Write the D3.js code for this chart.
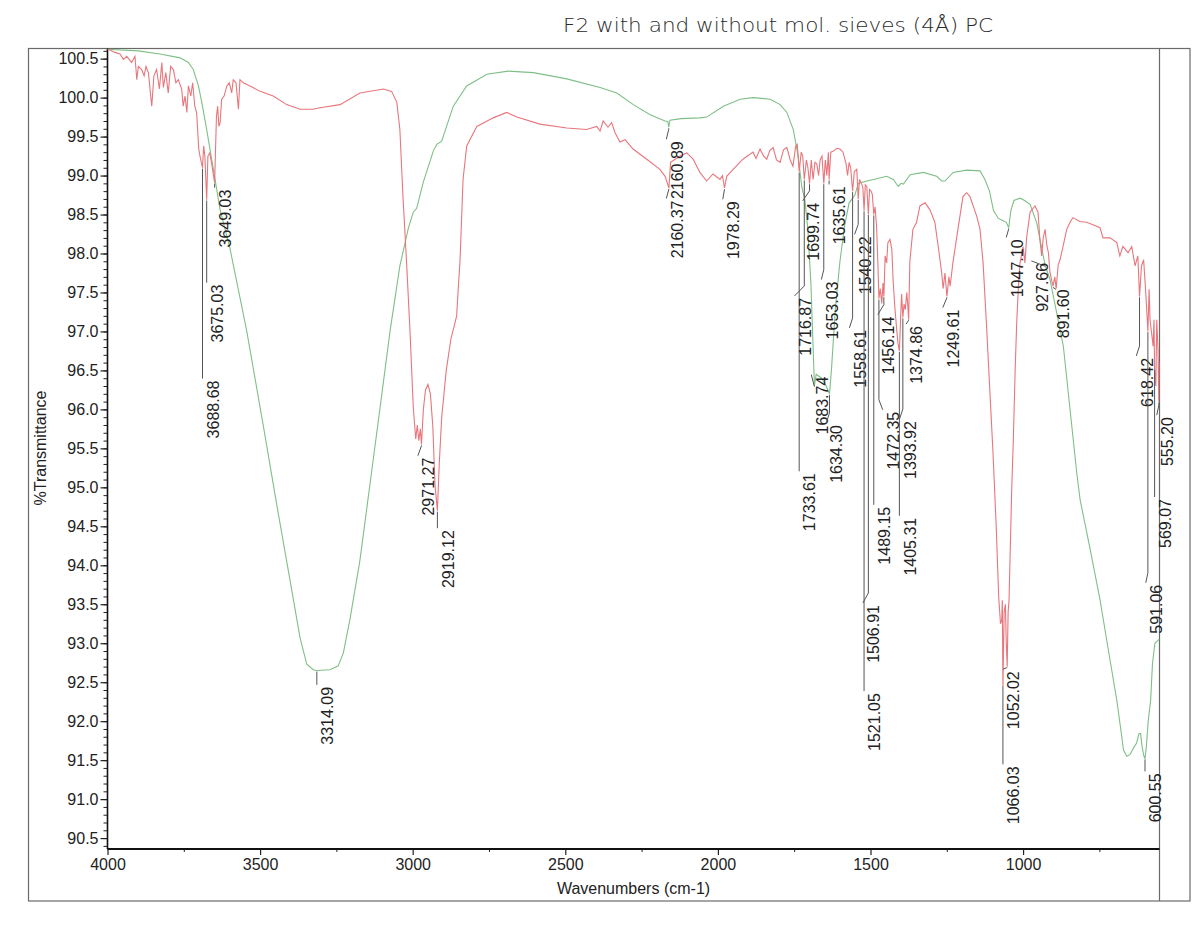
<!DOCTYPE html>
<html><head><meta charset="utf-8">
<script src="https://cdn.jsdelivr.net/npm/d3@7"></script>
<style>body{margin:0;background:#fff}svg{display:block}</style>
</head><body>
<svg id="c" width="1200" height="941"></svg>
<script>
// ---------------- data ----------------
const chartTitle = "F2 with and without mol. sieves (4Å) PC";
const xTitle = "Wavenumbers (cm-1)";
const yTitle = "%Transmittance";
const xTickValues = [4000, 3500, 3000, 2500, 2000, 1500, 1000];
const yTickValues = [90.5,91.0,91.5,92.0,92.5,93.0,93.5,94.0,94.5,95.0,95.5,96.0,96.5,97.0,97.5,98.0,98.5,99.0,99.5,100.0,100.5];

// red spectrum (without sieves) [wavenumber, %T]
const redSpectrum = [
[4000,100.62],[3992,100.61],[3975,100.58],[3959,100.56],[3948,100.49],[3937,100.53],[3921,100.45],[3910,100.53],[3904,100.23],[3899,100.40],[3888,100.36],[3880,100.28],[3874,100.40],[3866,100.32],[3855,99.89],[3848,100.28],[3839,100.36],[3830,100.11],[3822,100.45],[3817,100.13],[3809,100.32],[3801,100.06],[3793,100.40],[3784,100.36],[3776,100.19],[3768,100.23],[3757,100.11],[3752,99.89],[3746,100.02],[3740,99.81],[3735,100.15],[3727,100.02],[3721,100.19],[3714,99.89],[3708,99.81],[3701,99.34],[3697,99.25],[3688.7,99.10],[3685,99.38],[3681,99.25],[3675,98.69],[3671,99.25],[3665,99.29],[3659,99.16],[3649,98.91],[3643,99.76],[3639,99.89],[3635,99.63],[3631,99.68],[3626,99.98],[3618,100.02],[3609,100.15],[3601,100.19],[3593,100.06],[3588,100.23],[3579,100.19],[3571,99.85],[3566,100.23],[3555,100.19],[3533,100.15],[3500,100.08],[3457,100.02],[3413,99.91],[3369,99.85],[3326,99.85],[3304,99.87],[3238,99.91],[3173,100.06],[3096,100.11],[3069,100.08],[3052,99.94],[3042,99.59],[3032,98.74],[3020,97.88],[3009,97.02],[2998,96.02],[2990,95.62],[2985,95.80],[2980,95.60],[2975,95.75],[2971.3,95.55],[2965,96.0],[2958,96.25],[2950,96.32],[2942,96.2],[2934,95.78],[2927,95.04],[2919.1,94.70],[2913,95.3],[2905,95.9],[2890,96.5],[2875,96.9],[2862,97.1],[2856,97.2],[2850,97.6],[2845,97.9],[2835,98.95],[2823,99.38],[2790,99.63],[2736,99.74],[2692,99.81],[2659,99.75],[2583,99.66],[2495,99.61],[2430,99.59],[2397,99.63],[2386,99.57],[2376,99.70],[2360,99.62],[2348,99.68],[2337,99.55],[2321,99.43],[2304,99.46],[2278,99.34],[2233,99.21],[2190,99.08],[2173,98.99],[2160.4,98.84],[2155,99.17],[2124,99.25],[2102,99.29],[2081,99.21],[2059,99.04],[2037,98.93],[2016,99.02],[1993,98.95],[1985,99.0],[1978.3,98.84],[1971,98.99],[1950,99.08],[1918,99.21],
[1885,99.30],[1875,99.22],[1862,99.34],[1850,99.25],[1840,99.21],[1830,99.32],[1819,99.36],[1808,99.2],[1796,99.17],[1785,99.33],[1774,99.36],[1763,99.2],[1754,99.12],[1745,99.38],[1740,99.40],[1733.6,99.05],[1727,99.3],[1722,99.25],[1716.9,98.95],[1710,99.2],[1705,99.1],[1699.7,98.9],[1694,99.2],[1688,98.95],[1682,99.17],[1676,99.15],[1670,99.0],[1665,99.2],[1659,99.25],[1653,98.9],[1648,99.2],[1643,99.0],[1638,99.3],[1635.6,98.95],[1630,99.30],[1623,99.31],[1610,99.35],[1600,99.34],[1590,99.30],[1580,99.15],[1575,99.0],[1570,99.17],[1565,99.1],[1558.6,98.80],[1553,99.05],[1545,99.08],[1540.2,98.7],[1536,98.95],[1530,98.9],[1525,98.85],[1521,98.55],[1517,98.88],[1512,98.86],[1507,98.50],[1503,98.82],[1498,98.80],[1494,98.76],[1489.2,98.50],[1485,98.60],[1480,98.35],[1476,97.9],[1472.4,97.42],[1468,97.55],[1463,97.36],[1459,97.62],[1456.1,97.45],[1452,97.97],[1447,97.88],[1443,98.14],[1436,98.18],[1430,98.05],[1426,97.67],[1420,97.3],[1414,97.02],[1410,96.85],[1405.3,96.75],[1400,97.3],[1398,97.48],[1393.9,97.18],[1390,97.35],[1386,97.28],[1381,97.5],[1378,97.35],[1374.9,97.15],[1371,97.9],[1361,98.31],[1349,98.40],[1338,98.61],[1321,98.65],[1305,98.56],[1289,98.40],[1278,98.09],[1267,97.76],[1262,97.55],[1256,97.75],[1249.6,97.45],[1243,97.7],[1239,97.58],[1230,97.88],[1217,98.22],[1197,98.73],[1185,98.78],[1174,98.73],[1152,98.48],[1141,98.31],[1131,97.88],[1119,97.02],[1108,96.17],[1099,95.48],[1088,94.5],[1080,93.6],[1074,93.25],[1070,93.3],[1068,93.55],[1066,92.44],[1062,93.4],[1058,93.5],[1055,93.0],[1052,92.70],[1049,93.4],[1046,93.55],[1042,94.2],[1037,95.0],[1032,95.6],[1026,96.5],[1021,97.1],[1015,97.6],[1010,97.88],[1000,98.09],[994,97.88],[988,98.22],[977,98.53],[961,98.61],[951,98.53],[945,98.18],[939,97.97],[934,98.2],[928,98.31],[922,98.1],[917,98.01],[912,97.76],[902,97.58],[896,97.7],[891.6,97.55],[885,97.85],[879,97.92],[869,98.09],[857,98.31],[846,98.40],[837,98.46],[814,98.41],[792,98.40],[771,98.37],[748,98.33],[738,98.20],[715,98.20],[693,98.14],[683,97.97],[673,98.09],[656,98.01],[644,98.09],[633,97.84],[624,97.97],[618.4,97.45],[612,97.84],[605,97.92],[598,97.5],[591,97.0],[587,97.54],[584,97.15],[578,96.95],[574,96.81],[571,97.15],[569,96.5],[565,96.30],[562,97.15],[558,96.77],[555.2,96.1],[553,96.6]
];

// green spectrum (with sieves) [wavenumber, %T]
const greenSpectrum = [
[4000,100.62],[3900,100.60],[3828,100.56],[3762,100.51],[3735,100.45],[3719,100.36],[3702,100.15],[3691,99.94],[3675,99.59],[3653,99.08],[3631,98.56],[3599,98.07],[3544,97.01],[3489,95.78],[3446,94.79],[3402,93.81],[3369,93.07],[3347,92.73],[3326,92.66],[3314,92.65],[3271,92.66],[3244,92.71],[3227,92.88],[3205,93.32],[3173,94.06],[3140,95.04],[3107,96.02],[3074,97.01],[3042,97.84],[3014,98.33],[2998,98.53],[2987,98.58],[2965,98.92],[2932,99.32],[2921,99.40],[2905,99.44],[2867,99.89],[2823,100.15],[2757,100.30],[2687,100.34],[2605,100.32],[2495,100.24],[2386,100.13],[2331,100.06],[2277,99.91],[2222,99.78],[2173,99.70],[2164,99.69],[2160.9,99.62],[2157,99.71],[2120,99.73],[2059,99.74],[2037,99.75],[1982,99.89],[1927,99.98],[1884,100.0],[1829,99.98],[1796,99.91],[1774,99.81],[1753,99.59],[1737,99.25],[1725,98.85],[1715,98.69],[1705,98.3],[1695,97.6],[1688,96.8],[1683.7,96.3],[1678,96.45],[1660,96.4],[1645,96.3],[1634.3,96.2],[1628,96.5],[1615,97.3],[1600,97.9],[1585,98.35],[1570,98.65],[1551,98.75],[1540,98.9],[1512,98.93],[1480,98.96],[1447,98.99],[1425,98.95],[1409,98.86],[1400,98.9],[1392,98.89],[1370,99.01],[1327,99.04],[1283,98.99],[1267,98.93],[1256,98.93],[1229,99.04],[1185,99.07],[1141,99.06],[1125,98.95],[1110,98.8],[1097,98.55],[1081,98.45],[1065,98.42],[1055,98.40],[1047.1,98.33],[1040,98.55],[1030,98.68],[1010,98.71],[995,98.68],[977,98.63],[955,98.39],[934,97.97],[927.7,97.85],[912,97.67],[868,96.81],[824,95.18],[813,94.84],[780,94.2],[748,93.56],[720,92.9],[693,92.27],[680,91.9],[671,91.63],[660,91.55],[650,91.57],[636,91.67],[628,91.72],[620,91.84],[615,91.84],[610,91.67],[604,91.55],[600.55,91.52],[596,91.67],[590,92.0],[582,92.27],[576,92.74],[568,93.0],[557,93.04],[553,93.05]
];

// peak labels: [text, peak wavenumber, series, wavenumber of leader end, %T at label top]
const peakLabels = [
["3688.68",3688.68,"r",3688.68,96.37],
["3675.03",3675.03,"r",3675.03,97.60],
["3649.03",3649.03,"r",3649.03,98.82],
["3314.09",3314.09,"g",3314.09,92.44],
["2971.27",2971.27,"r",2983,95.38],
["2919.12",2919.12,"r",2919.12,94.45],
["2160.89",2160.89,"g",2169,99.44],
["2160.37",2160.37,"r",2169,98.68],
["1978.29",1978.29,"r",1984,98.67],
["1733.61",1733.61,"r",1733.61,95.18],
["1716.87",1716.87,"r",1749,97.43],
["1699.74",1699.74,"r",1722,98.65],
["1683.74",1683.74,"g",1694,96.42],
["1653.03",1653.03,"r",1661,97.64],
["1635.61",1635.61,"r",1640,98.86],
["1634.30",1634.30,"g",1645,95.80],
["1558.61",1558.61,"r",1569,97.02],
["1540.22",1540.22,"r",1552,98.22],
["1521.05",1521.05,"r",1525,92.36],
["1506.91",1506.91,"r",1525,93.49],
["1489.15",1489.15,"r",1492,94.75],
["1472.35",1472.35,"r",1460,95.97],
["1456.14",1456.14,"r",1476,97.19],
["1405.31",1405.31,"r",1410,94.61],
["1393.92",1393.92,"r",1405,95.85],
["1374.86",1374.86,"r",1383,97.07],
["1249.61",1249.61,"r",1263,97.28],
["1066.03",1066.03,"r",1066.03,91.42],
["1052.02",1052.02,"r",1066,92.64],
["1047.10",1047.10,"g",1055,98.18],
["927.66",927.66,"g",973,97.88],
["891.60",891.60,"r",902,97.54],
["618.42",618.42,"r",629,96.66],
["600.55",600.55,"g",600.55,91.33],
["591.06",591.06,"r",598,93.75],
["569.07",569.07,"r",572,94.85],
["555.20",555.20,"r",562,95.90]
];

// ---------------- drawing ----------------
const svg = d3.select("#c");
const font = "'Liberation Sans', Arial, sans-serif";
const W = 1200, H = 941;
svg.append("rect").attr("width", W).attr("height", H).attr("fill", "#fff");

const x = d3.scaleLinear().domain([4000, 553]).range([107.5, 1159.5]);
const y = d3.scaleLinear().domain([90.36, 100.63]).range([849, 48.5]);
const pL = x(4000), pR = x(553), pT = y(100.63), pB = y(90.36);

// outer frame
svg.append("rect").attr("x", 28.5).attr("y", 48.5).attr("width", 1190 - 28.5).attr("height", 901 - 48.5)
  .attr("fill", "none").attr("stroke", "#6a6a6a").attr("stroke-width", 1.2);
// right border of plot
svg.append("line").attr("x1", pR).attr("x2", pR).attr("y1", pT).attr("y2", 901)
  .attr("stroke", "#6a6a6a").attr("stroke-width", 1.2);

// y minor ticks
const yMinor = d3.range(904, 1007).map(v => v / 10);
svg.append("g").attr("transform", `translate(${pL},0)`)
  .call(d3.axisLeft(y).tickValues(yMinor).tickSize(4).tickFormat(""))
  .call(g => g.select(".domain").remove())
  .call(g => g.selectAll("line").attr("stroke", "#222"));
// y major
svg.append("g").attr("transform", `translate(${pL},0)`)
  .call(d3.axisLeft(y).tickValues(yTickValues).tickSize(7).tickPadding(2).tickFormat(d3.format(".1f")))
  .call(g => g.select(".domain").remove())
  .call(g => g.selectAll("line").attr("stroke", "#222").attr("stroke-width", 1.2))
  .call(g => g.selectAll("text").attr("font-family", font).attr("font-size", 16).attr("fill", "#222"));

// x minor ticks
const xMinor = d3.range(3750, 550, -250).filter(v => v % 500 !== 0);
svg.append("g").attr("transform", `translate(0,${pB})`)
  .call(d3.axisBottom(x).tickValues(xMinor).tickSize(3).tickFormat(""))
  .call(g => g.select(".domain").remove())
  .call(g => g.selectAll("line").attr("stroke", "#222"));
svg.append("g").attr("transform", `translate(0,${pB})`)
  .call(d3.axisBottom(x).tickValues(xTickValues).tickSize(6).tickPadding(4).tickFormat(d3.format("d")))
  .call(g => g.select(".domain").remove())
  .call(g => g.selectAll("line").attr("stroke", "#222").attr("stroke-width", 1.2))
  .call(g => g.selectAll("text").attr("font-family", font).attr("font-size", 16).attr("fill", "#222"));

// axis lines
svg.append("line").attr("x1", pL).attr("x2", pL).attr("y1", pT).attr("y2", pB)
  .attr("stroke", "#111").attr("stroke-width", 1.6);
svg.append("line").attr("x1", pL).attr("x2", pR).attr("y1", pB).attr("y2", pB)
  .attr("stroke", "#111").attr("stroke-width", 2.2);

// titles
svg.append("text").attr("x", (pL + pR) / 2).attr("y", 894).attr("text-anchor", "middle")
  .attr("font-family", font).attr("font-size", 16).attr("fill", "#222").text(xTitle);
svg.append("text").attr("transform", "translate(46,448) rotate(-90)").attr("text-anchor", "middle")
  .attr("font-family", font).attr("font-size", 16).attr("fill", "#222").text(yTitle);
svg.append("text").attr("x", 563).attr("y", 32).attr("textLength", 430).attr("lengthAdjust", "spacingAndGlyphs")
  .attr("font-family", "'DejaVu Sans', sans-serif").attr("font-weight", 300).attr("font-size", 19)
  .attr("fill", "#2a2a2a").text(chartTitle);

// spectra
svg.append("clipPath").attr("id", "pc").append("rect")
  .attr("x", pL).attr("y", pT).attr("width", pR - pL).attr("height", pB - pT);
const line = d3.line().x(d => x(d[0])).y(d => y(d[1]));
const plot = svg.append("g").attr("clip-path", "url(#pc)");
plot.append("path").datum(greenSpectrum).attr("d", line).attr("fill", "none")
  .attr("stroke", "#7fbf86").attr("stroke-width", 1.1);
plot.append("path").datum(redSpectrum).attr("d", line).attr("fill", "none")
  .attr("stroke", "#e8767c").attr("stroke-width", 1.1);

// interpolate %T of a series at a wavenumber
function valAt(data, wn) {
  for (let i = 0; i < data.length - 1; i++) {
    const a = data[i], b = data[i + 1];
    if (wn <= a[0] && wn >= b[0]) {
      const t = (a[0] - wn) / (a[0] - b[0]);
      return a[1] + t * (b[1] - a[1]);
    }
  }
  return data[data.length - 1][1];
}

// peak labels
const lab = svg.append("g");
peakLabels.forEach(([txt, wn, s, endWn, topT]) => {
  const data = s === "r" ? redSpectrum : greenSpectrum;
  const px = x(wn), py = y(valAt(data, wn)) + 1;
  const ex = x(endWn), ey = y(topT) - 2;
  let pts;
  if (Math.abs(ex - px) < 1.5) pts = [[px, py], [px, ey]];
  else {
    const bend = Math.max(py, ey - 10);
    pts = [[px, py], [px, bend], [ex, ey]];
  }
  lab.append("path").attr("d", d3.line()(pts)).attr("fill", "none")
    .attr("stroke", "#555").attr("stroke-width", 1);
  const tx = (Math.abs(ex - px) < 1.5 ? px : ex) + 10.5;
  lab.append("text").attr("transform", `translate(${tx},${y(topT)}) rotate(-90)`)
    .attr("text-anchor", "end").attr("dy", "0.36em")
    .attr("font-family", font).attr("font-size", 16).attr("fill", "#222").text(txt);
});
</script>
</body></html>
